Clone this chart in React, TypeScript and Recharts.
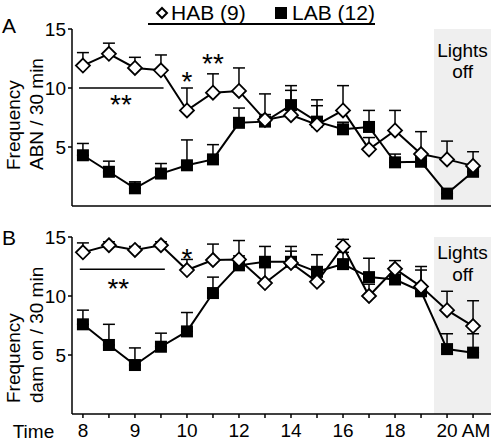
import { LineChart, Line, XAxis, YAxis, ErrorBar, ReferenceArea, ReferenceLine, ReferenceDot } from 'recharts';

// half-hour steps until 10, then hourly
const times = ['8', '8.5', '9', '9.5', '10', '11', '12', '13', '14', '15', '16', '17', '18', '19', '20', '21'];
const tickLabels: Record<string, string> = { '8': '8', '9': '9', '10': '10', '12': '12', '14': '14', '16': '16', '18': '18', '20': '20 AM' };

// panel A: ABN frequency
const habAbn = [11.9, 12.9, 11.7, 11.5, 8.1, 9.6, 9.75, 7.3, 7.7, 6.9, 8.1, 4.8, 6.4, 4.4, 3.95, 3.4];
const habAbnSem = [1.1, 0.9, 0.9, 1.3, 1.9, 1.6, 1.95, 2.2, 2.1, 1.6, 2.1, 1.0, 1.7, 1.9, 1.55, 1.2];
const labAbn = [4.3, 2.9, 1.5, 2.75, 3.45, 3.95, 7.05, 7.15, 8.55, 7.15, 6.5, 6.7, 3.7, 3.75, 1.05, 2.9];
const labAbnSem = [1.0, 0.9, 0.55, 0.85, 2.15, 1.25, 1.25, 0.6, 1.65, 1.85, 0.6, 1.4, 0.7, 0.5, 0.4, 0.5];

// panel B: dam on frequency
const habDam = [13.7, 14.3, 13.9, 14.3, 12.2, 13.05, 13.1, 11.1, 12.8, 11.2, 14.2, 10.0, 12.3, 10.8, 8.8, 7.45];
const habDamSem = [0.8, 0.3, 0.3, 0.3, 0.9, 1.35, 1.6, 1.3, 1.0, 0.9, 0.6, 1.0, 0.7, 1.7, 1.6, 2.15];
const labDam = [7.6, 5.85, 4.15, 5.7, 7.0, 10.25, 12.6, 12.9, 12.9, 12.05, 12.7, 11.6, 11.4, 10.4, 5.5, 5.2];
const labDamSem = [1.2, 1.75, 1.45, 1.15, 1.6, 1.35, 0.8, 1.3, 1.3, 1.45, 1.0, 1.6, 0.8, 1.8, 1.3, 1.6];

const FONT = '"Liberation Sans", Arial, sans-serif';
const FS = 19;

const Diamond = (p: any) => {
  const { cx, cy } = p;
  if (cx == null || cy == null) return null;
  return <path key={p.index} d={`M${cx},${cy - 7}L${cx + 7},${cy}L${cx},${cy + 7}L${cx - 7},${cy}Z`} fill="#fff" stroke="#000" strokeWidth={1.8} />;
};

const Square = (p: any) => {
  const { cx, cy } = p;
  if (cx == null || cy == null) return null;
  return <rect key={p.index} x={cx - 6} y={cy - 6} width={12} height={12} fill="#000" />;
};

const XTick = (p: any) => {
  const { x, y, payload } = p;
  const lbl = tickLabels[times[payload.value]];
  if (!lbl) return null;
  const wide = lbl.includes(' ');
  return (
    <text x={wide ? x - 0.556 * FS : x} y={y} dy="0.71em" textAnchor={wide ? 'start' : 'middle'} fontSize={FS} fontFamily={FONT} fill="#000">
      {lbl}
    </text>
  );
};

const Stars = (p: any) => (
  <text x={p.cx} y={p.cy} dy={0.58 * 28} textAnchor="middle" fontSize={28} fontFamily={FONT} fill="#000">
    {p.text}
  </text>
);

const LightsOff = (p: any) => {
  const vb = p.viewBox || {};
  const cx = vb.x + vb.width / 2;
  return (
    <text x={cx} y={vb.y + p.top} textAnchor="middle" fontSize={FS} fontFamily={FONT} fill="#000">
      <tspan x={cx}>Lights</tspan>
      <tspan x={cx} dy={21.7}>off</tspan>
    </text>
  );
};

type Note = { i: number; y: number; text: string };

interface PanelProps {
  hab: number[];
  habSem: number[];
  lab: number[];
  labSem: number[];
  height: number;
  top: number;
  xHeight: number;
  labels: boolean;
  sigY: number;
  sigFrom: number;
  sigTo: number;
  notes: Note[];
  lightsTop: number;
}

const Panel = ({ hab, habSem, lab, labSem, height, top, xHeight, labels, sigY, sigFrom, sigTo, notes, lightsTop }: PanelProps) => {
  const rows = times.map((t, i) => ({
    i,
    time: t,
    hab: hab[i],
    habErr: [0, habSem[i]],
    lab: lab[i],
    labErr: [0, labSem[i]],
  }));
  return (
    <LineChart width={496} height={height} data={rows} margin={{ top, right: 5, bottom: 0, left: 0 }}>
      <ReferenceArea x1={13.5} x2={15.69} y1={0} y2={15} fill="#efefef" fillOpacity={1} stroke="none" label={<LightsOff top={lightsTop} />} />
      <XAxis
        type="number"
        dataKey="i"
        domain={[-0.42, 15.69]}
        allowDataOverflow
        ticks={times.map((_, i) => i)}
        tickSize={4}
        tickMargin={6}
        height={xHeight}
        axisLine={{ stroke: '#000', strokeWidth: 1.5 }}
        tickLine={{ stroke: '#000', strokeWidth: 1.5 }}
        tick={labels ? <XTick /> : false}
      />
      <YAxis
        type="number"
        domain={[0, 15]}
        ticks={[5, 10, 15]}
        width={72}
        tickSize={4}
        tickMargin={2}
        axisLine={{ stroke: '#000', strokeWidth: 1.5 }}
        tickLine={{ stroke: '#000', strokeWidth: 1.5 }}
        tick={{ fill: '#000', fontSize: FS, fontFamily: FONT }}
      />
      <ReferenceLine segment={[{ x: sigFrom, y: sigY }, { x: sigTo, y: sigY }]} stroke="#000" strokeWidth={1.5} />
      {notes.map((n, k) => (
        <ReferenceDot key={k} x={n.i} y={n.y} r={0} shape={(p: any) => <Stars {...p} text={n.text} />} />
      ))}
      <Line dataKey="lab" type="linear" stroke="#000" strokeWidth={2} dot={false} activeDot={false} isAnimationActive={false}>
        <ErrorBar dataKey="labErr" width={6} stroke="#000" strokeWidth={1.5} />
      </Line>
      <Line dataKey="lab" type="linear" stroke="none" dot={Square} activeDot={false} isAnimationActive={false} />
      <Line dataKey="hab" type="linear" stroke="#000" strokeWidth={2} dot={false} activeDot={false} isAnimationActive={false}>
        <ErrorBar dataKey="habErr" width={6} stroke="#000" strokeWidth={1.5} />
      </Line>
      <Line dataKey="hab" type="linear" stroke="none" dot={Diamond} activeDot={false} isAnimationActive={false} />
    </LineChart>
  );
};

const notesA: Note[] = [
  { i: 4, y: 11.16, text: '*' },
  { i: 5, y: 12.65, text: '**' },
  { i: 1.46, y: 9.2, text: '**' },
];
const notesB: Note[] = [
  { i: 4, y: 13.75, text: '*' },
  { i: 1.36, y: 11.2, text: '**' },
];

export default function App() {
  return (
    <div style={{ position: 'absolute', left: 0, top: 0, width: 496, height: 444, background: '#fff', fontFamily: FONT }}>
      <div style={{ position: 'absolute', left: 0, top: 0 }}>
        <Panel hab={habAbn} habSem={habAbnSem} lab={labAbn} labSem={labAbnSem} height={220} top={29} xHeight={14} labels={false}
          sigY={10} sigFrom={-0.15} sigTo={3.1} notes={notesA} lightsTop={27.7} />
      </div>
      <div style={{ position: 'absolute', left: 0, top: 220 }}>
        <Panel hab={habDam} habSem={habDamSem} lab={labDam} labSem={labDamSem} height={224} top={17} xHeight={30} labels
          sigY={12.26} sigFrom={-0.12} sigTo={3.15} notes={notesB} lightsTop={22.3} />
      </div>
      <svg width={496} height={444} style={{ position: 'absolute', left: 0, top: 0, pointerEvents: 'none' }} fontFamily={FONT}>
        {/* legend */}
        <path d="M162,8L167,13L162,18L157,13Z" fill="#fff" stroke="#000" strokeWidth={2} />
        <text x={171} y={19.5} fontSize={21}>HAB (9)</text>
        <rect x={275} y={7} width={12} height={12} fill="#000" />
        <text x={292} y={19.5} fontSize={21}>LAB (12)</text>
        <line x1={148} x2={375} y1={24} y2={24} stroke="#000" strokeWidth={2} />
        {/* panel letters */}
        <text x={2} y={33} fontSize={21}>A</text>
        <text x={2} y={245} fontSize={21}>B</text>
        {/* y titles */}
        <text transform="translate(20,170) rotate(-90)" fontSize={FS}>Frequency</text>
        <text transform="translate(43,170) rotate(-90)" fontSize={FS}>ABN / 30 min</text>
        <text transform="translate(20,403) rotate(-90)" fontSize={FS}>Frequency</text>
        <text transform="translate(43,403) rotate(-90)" fontSize={FS}>dam on / 30 min</text>
        <text x={12.7} y={437.7} fontSize={FS}>Time</text>
      </svg>
    </div>
  );
}
